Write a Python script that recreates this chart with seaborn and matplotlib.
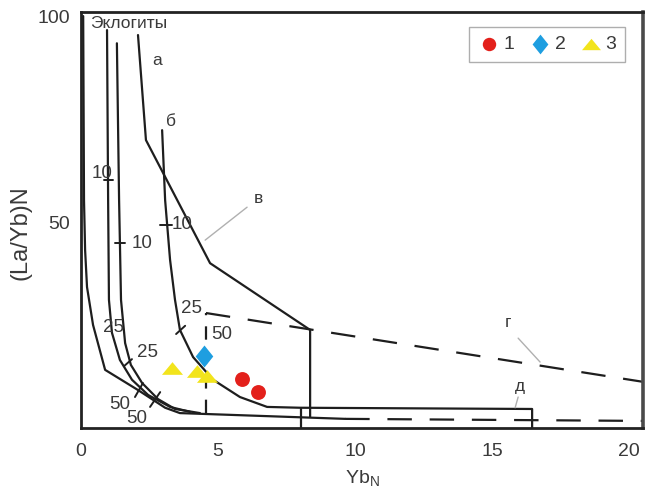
import numpy as np
import pandas as pd
import matplotlib
matplotlib.use("Agg")
import matplotlib.pyplot as plt
import seaborn as sns

# ---------------- data ----------------
# sample points: YbN, (La/Yb)N, group
pts_x = [5.88, 6.46, 4.49, 3.32, 4.23, 4.60]
pts_y = [11.9, 8.7, 17.5, 14.6, 13.8, 12.6]
pts_group = ["1", "1", "2", "3", "3", "3"]

# model curves (solid)
curve0_x = [0.08, 0.11, 0.15, 0.22, 0.44, 0.88, 2.08, 3.07, 3.61, 9.64]
curve0_y = [100.0, 55.3, 43.2, 34.2, 25.0, 14.1, 9.2, 4.9, 3.6, 2.2]
curve1_x = [0.95, 0.99, 1.02, 1.13, 1.42, 1.86, 2.45, 3.25, 3.98]
curve1_y = [96.6, 55.3, 31.1, 23.1, 16.5, 11.7, 8.0, 5.1, 3.9]
curve2_x = [1.31, 1.39, 1.46, 1.61, 1.82, 2.23, 2.81, 3.43, 4.34]
curve2_y = [93.4, 55.3, 31.1, 20.6, 15.3, 10.9, 7.0, 4.6, 3.6]
curve_a_x = [2.08, 2.37, 4.71, 8.36, 8.36]
curve_a_y = [95.4, 69.9, 40.0, 23.8, 2.7]
curve_b_x = [2.96, 3.07, 3.25, 3.43, 3.61, 4.09, 4.82, 5.80, 6.79, 7.99, 16.46, 16.46]
curve_b_y = [72.3, 55.3, 40.8, 31.1, 23.8, 17.2, 11.7, 7.5, 5.1, 4.9, 4.6, 0.0]
box_left_x = [8.03, 8.03]
box_left_y = [4.5, 0.0]
# dashed boundaries
dash_v_x = [4.56, 4.56]
dash_v_y = [3.6, 27.9]
dash_g_x = [4.56, 20.5]
dash_g_y = [27.9, 11.2]
dash_d_x = [9.64, 20.5]
dash_d_y = [2.2, 1.7]

# small tick marks on curves (segment start/end)
tick_segs = [
    ((0.84, 1.17), (60.2, 60.2)),
    ((1.24, 1.61), (44.9, 44.9)),
    ((2.88, 3.32), (49.3, 49.3)),
    ((1.57, 1.86), (15.0, 16.7)),
    ((3.47, 3.80), (22.8, 24.8)),
    ((1.97, 2.26), (7.5, 10.9)),
    ((2.52, 2.89), (5.1, 8.7)),
]
# curve value labels
val_text = ["10", "10", "10", "25", "25", "25", "50", "50", "50"]
val_x = [0.77, 1.86, 3.32, 1.17, 2.41, 4.05, 1.42, 2.04, 5.15]
val_y = [61.9, 44.9, 49.3, 24.5, 18.2, 29.1, 5.6, 2.4, 22.6]
val_ha = ["center", "left", "left", "center", "center", "center", "center", "center", "center"]

# letter labels
let_text = ["Эклогиты", "а", "б", "в", "г", "д"]
let_x = [0.33, 2.77, 3.28, 6.46, 15.58, 16.02]
let_y = [98.3, 89.3, 74.3, 55.8, 25.5, 10.0]
let_ha = ["left", "center", "center", "center", "center", "center"]
leaders = [
    ((6.06, 4.53), (53.6, 45.6)),
    ((15.95, 16.75), (21.8, 16.0)),
    ((15.95, 15.84), (7.5, 4.9)),
]

xticks = [0, 5, 10, 15, 20]
yticks = [50, 100]

# ---------------- plot ----------------
sns.set_style("white")
plt.rcParams["font.family"] = ["Liberation Sans", "DejaVu Sans"]
txt_col = "#3a3a3a"
line_col = "#1e1e1e"

fig = plt.figure(figsize=(6.5, 4.93), dpi=100)
ax = fig.add_axes([0.1246, 0.132, 0.8644, 0.8437])

lw = 1.6
for cx, cy in [(curve0_x, curve0_y), (curve1_x, curve1_y), (curve2_x, curve2_y),
               (curve_a_x, curve_a_y), (curve_b_x, curve_b_y), (box_left_x, box_left_y)]:
    sns.lineplot(x=cx, y=cy, sort=False, estimator=None, color=line_col, lw=lw, ax=ax)
for cx, cy, ls in [(dash_v_x, dash_v_y, (0, (6, 5))), (dash_g_x, dash_g_y, (0, (11, 8))),
                   (dash_d_x, dash_d_y, (0, (11, 8)))]:
    sns.lineplot(x=cx, y=cy, sort=False, estimator=None, color=line_col, lw=lw,
                 linestyle=ls, ax=ax)

for sx, sy in tick_segs:
    ax.plot(sx, sy, color=line_col, lw=1.4)
for sx, sy in leaders:
    ax.plot(sx, sy, color="#b0b0b0", lw=1.0)

for t, x, y, ha in zip(val_text, val_x, val_y, val_ha):
    ax.text(x, y, t, ha=ha, va="center", fontsize=13.5, color=txt_col)
for t, x, y, ha in zip(let_text, let_x, let_y, let_ha):
    ax.text(x, y, t, ha=ha, va="center", fontsize=12.5, color=txt_col)

df = pd.DataFrame({"x": pts_x, "y": pts_y, "g": pts_group})
pal = {"1": "#e3201b", "2": "#1e9ee0", "3": "#f2e41c"}
tri = [(-1.0, -0.6), (1.0, -0.6), (0.0, 0.6)]
dia = [(0.0, 1.0), (0.8, 0.0), (0.0, -1.0), (-0.8, 0.0)]
mk = {"1": "o", "2": dia, "3": tri}
sz = {"1": 115, "2": 250, "3": 230}
for g in ["1", "2", "3"]:
    sub = df[df.g == g]
    sns.scatterplot(data=sub, x="x", y="y", color=pal[g], marker=mk[g], s=sz[g],
                    linewidth=0, ax=ax, label=g, zorder=5)

h, l = ax.get_legend_handles_labels()
leg = ax.legend(h, l, ncol=3, loc="upper right", bbox_to_anchor=(0.968, 0.964),
                borderaxespad=0, frameon=True, fancybox=False, edgecolor="#9a9a9a",
                fontsize=14, handletextpad=0.15, columnspacing=0.7, handlelength=1.2,
                borderpad=0.45, markerscale=0.9)
leg.get_frame().set_linewidth(1.0)
for t in leg.get_texts():
    t.set_color(txt_col)

ax.set_xlim(0, 20.5)
ax.set_ylim(0, 101)
ax.set_xticks(xticks)
ax.set_yticks(yticks)
ax.set_xticklabels([str(v) for v in xticks])
ax.set_yticklabels([str(v) for v in yticks])
ax.tick_params(axis="both", length=0, labelsize=14, labelcolor=txt_col)
ax.tick_params(axis="x", pad=11)
ax.tick_params(axis="y", pad=8)
# faint inner ticks
ax.set_yticks(list(range(10, 100, 10)), minor=True)
ax.set_xticks([5, 10, 15], minor=True)
ax.tick_params(which="minor", direction="in", length=4, color="#c8c8c8", width=1)

ax.set_xlabel(r"Yb$_\mathregular{N}$", fontsize=14, color=txt_col, labelpad=6)
ax.set_ylabel("(La/Yb)N", fontsize=17, color=txt_col)
ax.yaxis.set_label_coords(-0.088, 0.47)

for side, sp in ax.spines.items():
    sp.set_visible(True)
    sp.set_color("#222222")
    sp.set_linewidth(2.0)
ax.spines["right"].set_color("#4a4a4a")
ax.spines["right"].set_linewidth(2.6)

fig.savefig("out.png", dpi=100, facecolor="white")
